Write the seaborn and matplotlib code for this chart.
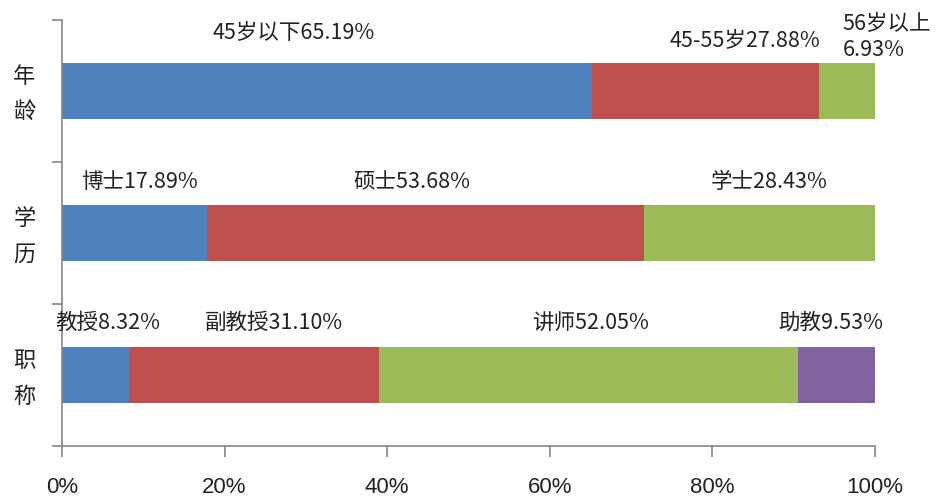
import numpy as np
import pandas as pd
import matplotlib
matplotlib.use("Agg")
import matplotlib.pyplot as plt
import matplotlib.transforms as mtrans
import seaborn as sns

sns.set_style("white")
plt.rcParams['font.family'] = ['Noto Sans CJK SC', 'DejaVu Sans']

categories = ["年龄", "学历", "职称"]
cat_labels = ["年\n龄", "学\n历", "职\n称"]
segment_names = [
    ["45岁以下", "45-55岁", "56岁以上"],
    ["博士", "硕士", "学士"],
    ["教授", "副教授", "讲师", "助教"],
]
segment_values = [
    [65.19, 27.88, 6.93],
    [17.89, 53.68, 28.43],
    [8.32, 31.10, 52.05, 9.53],
]
colors = ["#4F81BD", "#C0504D", "#9BBB59", "#8064A2"]
xticks = [0, 20, 40, 60, 80, 100]
xtick_labels = ["0%", "20%", "40%", "60%", "80%", "100%"]

# label anchor positions (x in %, y in category units)
label_pos = [
    [(28.5, -0.41, "center"), (84.0, -0.35, "center"), (96.0, -0.38, "left")],
    [(9.5, 0.64, "center"), (43.0, 0.64, "center"), (87.0, 0.64, "center")],
    [(5.6, 1.634, "center"), (26.0, 1.634, "center"), (65.0, 1.634, "center"), (94.5, 1.634, "center")],
]

rows = []
for ci, cat in enumerate(categories):
    vals = np.array(segment_values[ci], dtype=float)
    pct = vals / vals.sum() * 100
    cum = np.cumsum(pct)
    for k in range(len(vals)):
        rows.append(dict(cat=cat, seg=k, cum=cum[k]))
df = pd.DataFrame(rows)

fig = plt.figure(figsize=(9.39, 4.99), dpi=100)
ax = fig.add_axes([62/939, 1-446/499, (875-62)/939, (446-20)/499])

for k in range(3, -1, -1):
    sub = df[df.seg == k]
    sns.barplot(data=sub, x="cum", y="cat", order=categories, color=colors[k],
                orient="h", width=0.39, saturation=1, ax=ax, errorbar=None,
                linewidth=0)

ax.set_xlim(0, 100)
ax.set_ylim(2.5, -0.5)
ax.set_xlabel("")
ax.set_ylabel("")
ax.set_xticks(xticks)
ax.set_xticklabels(xtick_labels, fontsize=16, color="#222222",
                   family=["Liberation Sans", "DejaVu Sans"])
ax.set_yticks(range(len(categories)))
ax.set_yticklabels(cat_labels, fontsize=16, color="#222222", linespacing=1.75, ha="center")
ax.set_yticks([-0.5, 0.5, 1.5, 2.5], minor=True)
ax.tick_params(axis="y", which="major", length=0, pad=27)
ax.tick_params(axis="y", which="minor", length=7, color="#868686", width=1.2)
ax.tick_params(axis="x", which="major", length=8, color="#868686", width=1.2, pad=14, direction="out")
ax.tick_params(axis="x", bottom=True)
ax.tick_params(axis="y", which="minor", left=True)

shift = mtrans.ScaledTranslation(0, 6/100, fig.dpi_scale_trans)
for lab in ax.get_yticklabels():
    lab.set_transform(lab.get_transform() + shift)

for s in ["top", "right"]:
    ax.spines[s].set_visible(False)
for s in ["left", "bottom"]:
    ax.spines[s].set_color("#868686")
    ax.spines[s].set_linewidth(1.2)

for ci in range(len(categories)):
    for k, name in enumerate(segment_names[ci]):
        x, y, ha = label_pos[ci][k]
        txt = f"{name}{segment_values[ci][k]:.2f}%"
        if ha == "left":
            txt = f"{name}\n{segment_values[ci][k]:.2f}%"
        ax.text(x, y, txt, ha=ha, va="center", fontsize=15.5, color="#222222",
                linespacing=1.25)

fig.savefig("out.png", dpi=100)
